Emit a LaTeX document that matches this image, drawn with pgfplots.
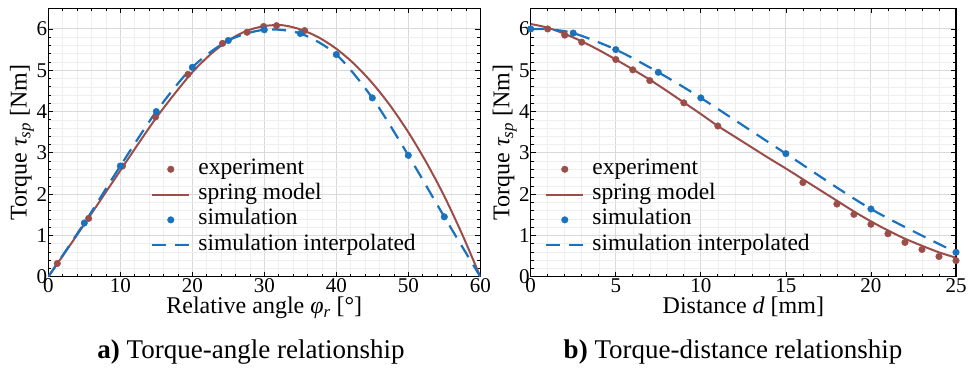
\documentclass[border=0pt]{standalone}
\usepackage{fontspec}
\setmainfont{Liberation Serif}
\usepackage{pgfplots}
\pgfplotsset{compat=1.18}
\definecolor{brn}{RGB}{155,77,74}
\definecolor{blu}{RGB}{26,114,190}
\pgfplotsset{
 myaxis/.style={
  scale only axis, height=268.4pt, ymin=0, ymax=6.5,
  ytick={0,1,2,3,4,5,6}, minor y tick num=4, minor x tick num=4,
  grid=both,
  major grid style={gray!30, line width=0.9pt},
  minor grid style={gray!13, line width=0.5pt},
  axis line style={black, line width=1.2pt},
  tick align=inside, major tick length=5pt, minor tick length=3pt,
  tick style={black, line width=0.7pt},
  /pgf/number format/assume math mode=true,
  ticklabel style={font=\fontsize{21}{21}\selectfont, inner sep=0pt},
  xticklabel style={yshift=-1.5pt},
  yticklabel style={xshift=-1pt},
  every axis x label/.style={at={(axis description cs:0.5,0)}, anchor=base, yshift=-37pt, font=\fontsize{24}{24}\selectfont},
  every axis y label/.style={at={(axis description cs:-0.061,0.5)}, anchor=center, rotate=90, font=\fontsize{24}{24}\selectfont},
  legend style={draw=none, fill=none, anchor=north west, font=\fontsize{23.5}{23.5}\selectfont,
    inner sep=0pt, row sep=3.3pt, nodes={inner sep=0pt, text height=16pt, text depth=6pt},
    /tikz/every odd column/.append style={column sep=8pt}},
  legend cell align=left,
  legend image code/.code={\draw[mark repeat=2,mark phase=2,#1] plot coordinates {(0pt,0pt)(18.5pt,0pt)(37pt,0pt)};},
 },
 expst/.style={only marks, mark=*, mark size=3.3pt, color=brn},
 sprst/.style={no marks, color=brn, line width=2pt},
 simst/.style={only marks, mark=*, mark size=3.3pt, color=blu},
 intst/.style={no marks, color=blu, line width=2.2pt, dash pattern=on 14pt off 9pt},
}
\begin{document}
\begin{tikzpicture}
\path[use as bounding box] (0pt,0pt) rectangle (972pt,367pt);
\begin{axis}[myaxis, at={(48.3pt,90.3pt)}, anchor=south west, width=432pt,
  xmin=0, xmax=60, xtick={0,10,20,30,40,50,60},
  xlabel={Relative angle {\itshape φ}\textsubscript{\itshape r} [°]},
  ylabel={Torque {\itshape τ}\textsubscript{\itshape sp} [Nm]},
  legend style={at={(0.2377,0.442)}}]
\addlegendimage{expst}\addlegendentry{experiment}
\addlegendimage{sprst}\addlegendentry{spring model}
\addlegendimage{simst}\addlegendentry{simulation}
\addlegendimage{intst}\addlegendentry{simulation interpolated}
\addplot[sprst, smooth, forget plot] coordinates {
(0,0)(2.5,0.63)(5,1.27)(7.5,1.92)(10,2.57)(12.5,3.22)(15,3.85)(17.5,4.42)(20,4.95)
(22.5,5.38)(25,5.72)(27.5,5.95)(30,6.07)(32.5,6.09)(35,5.99)(37.5,5.80)(40,5.52)
(42.5,5.15)(45,4.69)(47.5,4.14)(50,3.50)(52.5,2.77)(55,1.95)(57.5,1.02)(60,0)};
\addplot[intst, smooth, forget plot] coordinates {
(0,0)(5,1.30)(10,2.68)(15,4.00)(20,5.07)(25,5.72)(30,5.98)(35,5.89)(40,5.38)
(45,4.33)(50,2.94)(55,1.45)(60,0)};
\addplot[expst, forget plot] coordinates {
(1.25,0.32)(5.6,1.41)(10.3,2.68)(14.9,3.87)(19.4,4.90)(24.2,5.65)(27.6,5.92)
(29.9,6.06)(31.7,6.08)(35.6,5.96)};
\addplot[simst, forget plot] coordinates {
(5,1.30)(10,2.68)(15,4.00)(20,5.07)(25,5.72)(30,5.98)(35,5.89)(40,5.38)
(45,4.33)(50,2.94)(55,1.45)};
\end{axis}
\begin{axis}[myaxis, at={(530.7pt,90.3pt)}, anchor=south west, width=425.3pt,
  xmin=0, xmax=25, xtick={0,5,10,15,20,25},
  xlabel={Distance {\itshape d} [mm]},
  ylabel={Torque {\itshape τ}\textsubscript{\itshape sp} [Nm]},
  legend style={at={(0.0336,0.442)}}]
\addlegendimage{expst}\addlegendentry{experiment}
\addlegendimage{sprst}\addlegendentry{spring model}
\addlegendimage{simst}\addlegendentry{simulation}
\addlegendimage{intst}\addlegendentry{simulation interpolated}
\addplot[sprst, smooth, forget plot] coordinates {
(0,6.12)(1,6.03)(2,5.88)(3,5.70)(4,5.49)(5,5.26)(6,5.02)(7,4.77)(8,4.50)(9,4.22)
(10,3.94)(11,3.65)(12,3.39)(13,3.13)(14,2.87)(15,2.62)(16,2.36)(17,2.10)(18,1.84)
(19,1.58)(20,1.34)(21,1.12)(22,0.92)(23,0.75)(24,0.59)(25,0.46)};
\addplot[intst, smooth, forget plot] coordinates {
(0,6.00)(1,5.99)(2.5,5.90)(5,5.50)(7.5,4.95)(10,4.33)(15,2.98)(20,1.64)(25,0.59)};
\addplot[expst, forget plot] coordinates {
(1,6.00)(2,5.85)(3,5.68)(5,5.26)(6,5.01)(7,4.75)(9,4.21)(11,3.65)(16,2.28)
(18,1.76)(19,1.51)(20,1.27)(21,1.04)(22,0.83)(23,0.66)(24,0.49)(25,0.39)};
\addplot[simst, forget plot] coordinates {
(0,6.00)(2.5,5.90)(5,5.50)(7.5,4.95)(10,4.33)(15,2.98)(20,1.64)(25,0.59)};
\end{axis}
\node[anchor=base, font=\fontsize{27}{27}\selectfont] at (251pt,9pt) {\textbf{a)} Torque-angle relationship};
\node[anchor=base, font=\fontsize{27}{27}\selectfont] at (733pt,9pt) {\textbf{b)} Torque-distance relationship};
\end{tikzpicture}
\end{document}
